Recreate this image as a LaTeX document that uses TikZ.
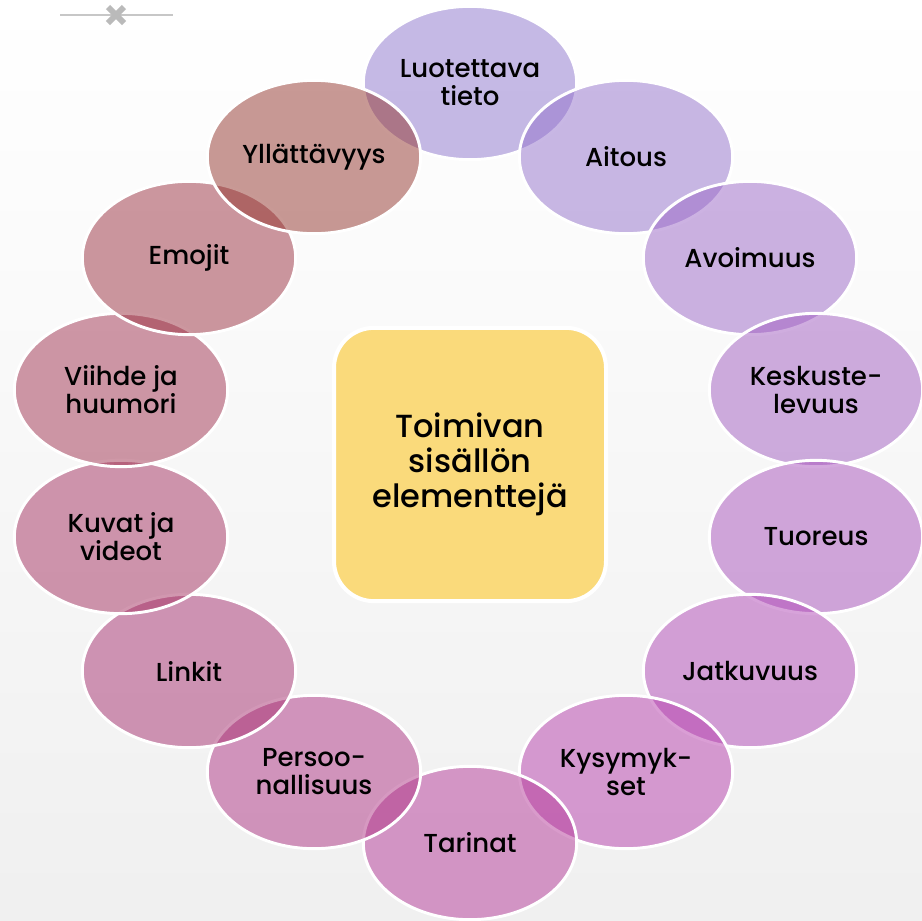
\documentclass[tikz,border=0pt]{standalone}
\usepackage{fontspec}
\setmainfont{Poppins}[UprightFont=* Medium]
\usetikzlibrary{shapes.geometric}

\definecolor{bubA}{RGB}{141,117,205}
\definecolor{bubB}{RGB}{147,113,203}
\definecolor{bubC}{RGB}{155,103,199}
\definecolor{bubD}{RGB}{161,93,193}
\definecolor{bubE}{RGB}{169,83,189}
\definecolor{bubF}{RGB}{177,73,183}
\definecolor{bubG}{RGB}{183,63,173}
\definecolor{bubH}{RGB}{181,57,153}
\definecolor{bubI}{RGB}{175,53,133}
\definecolor{bubJ}{RGB}{167,49,113}
\definecolor{bubK}{RGB}{165,49,97}
\definecolor{bubL}{RGB}{161,51,81}
\definecolor{bubM}{RGB}{155,49,65}
\definecolor{bubN}{RGB}{147,53,45}
\definecolor{boxyellow}{RGB}{250,218,123}

\tikzset{
  bubble/.style={ellipse, draw=white, line width=2.2pt, fill opacity=0.5, text opacity=1,
    minimum width=160pt, minimum height=115pt, inner sep=0pt, align=center,
    font=\fontsize{19.5}{21}\selectfont},
  centerbox/.style={rectangle, rounded corners=30pt, draw=white, line width=3pt,
    fill=boxyellow, minimum width=204pt, minimum height=205pt, align=center,
    font=\fontsize{24}{26}\selectfont}
}

\begin{document}
\begin{tikzpicture}[x=0.75pt,y=-0.75pt]
    \useasboundingbox (0,0) rectangle (922,921);
    \clip (0,0) rectangle (922,921);
    \shade[top color=white, bottom color=black!6] (0,0) rectangle (922,921);

    \draw[black!22, line width=1.5pt] (60,15) -- (173,15);
    \draw[black!27, line width=4.5pt] (108,7) -- (124,23) (108,23) -- (124,7);

    \foreach \name/\x/\y/\col/\txt in {
        luotettava/470/83/bubA/{Luotettava\\tieto},
        aitous/626/157/bubB/{Aitous},
        avoimuus/750/258/bubC/{Avoimuus},
        keskustelevuus/816/390/bubD/{Keskuste-\\levuus},
        tuoreus/816/537/bubE/{Tuoreus},
        jatkuvuus/750/671/bubF/{Jatkuvuus},
        kysymykset/626/772/bubG/{Kysymyk-\\set},
        tarinat/470/843/bubH/{Tarinat},
        persoonallisuus/314/772/bubI/{Persoo-\\nallisuus},
        linkit/189/671/bubJ/{Linkit},
        kuvat/121/537/bubK/{Kuvat ja\\videot},
        viihde/121/390/bubL/{Viihde ja\\huumori},
        emojit/189/258/bubM/{Emojit},
        yllattavyys/314/157/bubN/{Yllättävyys}}
        \node[bubble, fill=\col] (\name) at (\x,\y) {\txt};

    \node[centerbox] (center) at (470,464.5) {Toimivan\\sisällön\\elementtejä};
\end{tikzpicture}
\end{document}
